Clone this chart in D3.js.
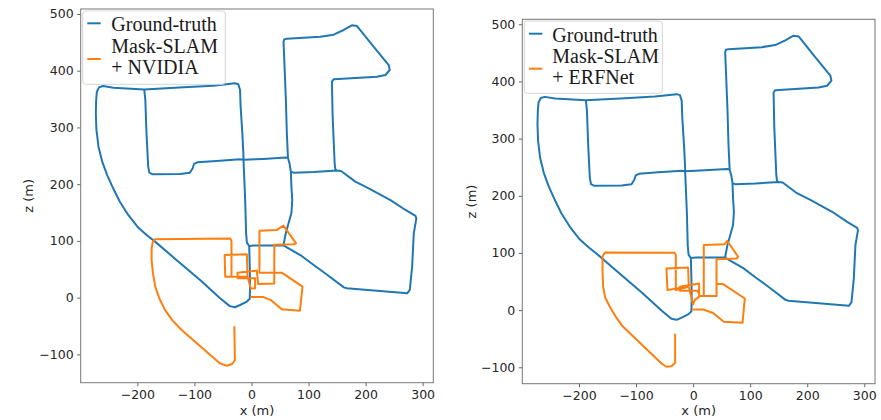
<!DOCTYPE html>
<html>
<head>
<meta charset="utf-8">
<script src="https://cdn.jsdelivr.net/npm/d3@7"></script>
<style>
  body { margin: 0; background: #fff; }
  text { font-family: "DejaVu Sans", sans-serif; }
</style>
</head>
<body>
<svg id="chart" width="881" height="420"></svg>
<script>
// ---- ground truth, road pieces in metres [x, z] ----
const gtWest = [[-188,367],[-242,370],[-260,373],[-267,371],[-271,363],[-272.2,348],[-272.8,325],[-271.7,295.5],[-268.1,266],[-261.6,239.7],[-252.9,216],[-242.4,192.7],[-230.7,169],[-216,145.7],[-198.5,123.4],[-183.8,110.5],[-169,98.7],[-131,66],[-90,31],[-55,-1],[-38,-15],[-29,-17],[-20,-13],[-8,-7],[-3,-2]]
const gtStart = [[-3,-2],[-2.5,20],[-3,55],[-4,91]]
const gtLow = [[-4,91],[5,92],[30,92],[56,92]]
const gtMidUp = [[56,92],[60,113],[65,131],[70,149],[71.5,172],[70,196],[69,222]]
const gtShort = [[69,222],[67,235],[64,246]]
const gtCross = [[64,246],[60,247],[21,244.5],[-14,243]]
const gtWestBlock = [[-14,243],[-20,243.8],[-61,241],[-95,238.5],[-100.7,235.6],[-103,228],[-108,220.3],[-125,218],[-173,217.4],[-179,220.3],[-181,231],[-184,290],[-186,348],[-188,367]]
const gtTopLeft = [[-188,367],[-119,370.7],[-67,373.7],[-29,377.8],[-23,376],[-20,366],[-19,337],[-16,290],[-14,248.5],[-14,243]]
const gtCentre = [[-14,243],[-11,172],[-9.4,113],[-8,97],[-4,91]]
const gtEast = [[56,92],[68,85],[88,73.4],[109,57.6],[129,43],[162,18],[167,16.5],[273,7.6],[277.5,13.5],[281.6,54.6],[284.5,113.4],[289,139.8],[287.5,144],[270,154.5],[243.6,172],[205.5,192.7],[182,204.5],[157,223.3],[150,224]]
const gtBack = [[150,224],[109,221.5],[74,220.3],[69,222]]
const gtNorth = [[64,246],[62,289.7],[60.3,348.4],[58,407],[56.2,451],[57.4,455.3],[62,456.5],[120.6,460],[144,463.6],[161.6,471.8],[176,480],[185,478.8],[214,442.4],[240.6,410],[242.4,401.3],[234.8,392.5],[220,389.5],[144,384.8],[141,380.7],[142.3,319],[145.8,236.8],[147,226],[150,224]]

const groundTruth = [].concat(gtWest, gtStart, gtLow, gtMidUp, gtShort, gtCross, gtWestBlock,
  gtTopLeft, gtCentre, gtLow, gtEast, gtBack, gtShort, gtNorth)

// ---- Mask-SLAM estimates [x, z] ----
const nvidiaTrack = [[-1,1],[21,1],[35,-5],[53,-20.5],[85,-23],[89.4,19.4],[53,44],[14,44],[14,118],[44,119],[56,127],[78,96],[75,94],[40,93],[40,25],[12,24],[11,31],[9.4,47.6],[-24.5,44],[-24,34],[6.4,34],[6.4,16.5],[-1.2,16],[-7,37],[-46,37],[-47,75],[-8,76.5],[-7,37],[-35,37],[-35,99],[-37,104],[-169,103],[-173,98],[-175,87],[-175,66],[-172.7,43],[-168.6,19.4],[-161.6,-1.2],[-151.6,-21.7],[-138.2,-40.5],[-122.4,-57],[-55,-116],[-43,-120],[-34,-117],[-29,-110],[-30,-52]]
const erfnetTrack = [[0,1],[17.5,1],[35,-5],[53.8,-20.4],[86.6,-22.2],[90.6,20.4],[52.6,45.5],[41,45.5],[41,89.2],[76,90.4],[78.9,93.3],[59.6,121.3],[55.5,115.4],[18.7,113.7],[18.7,24.5],[41,24.5],[41,45.5],[41,24.5],[10.5,24.5],[10.5,46.6],[-23.3,40.8],[-23,34],[8,34],[11.7,24.5],[2.9,17.5],[0,10],[-7.6,40.8],[-45,35],[-46.7,72.9],[-8.8,74.6],[-7.6,40.8],[-30.3,35],[-30.3,96.2],[-32.1,100.3],[-154.8,100.9],[-158.8,93.2],[-158.8,70],[-157.7,40.8],[-154.2,22.2],[-146,5.8],[-135.5,-11.7],[-122.7,-29.2],[-55.4,-93.3],[-46.6,-99.1],[-37.9,-98],[-31.5,-92.1],[-31.5,-42.6]]

const xTicks = [-200, -100, 0, 100, 200, 300]
const yTicks = [-100, 0, 100, 200, 300, 400, 500]

const panels = [
  { left: 80.7, right: 433.3, top: 9, bottom: 382.7,
    xDom: [-299.3, 318.7], yDom: [-150, 508.8],
    track: nvidiaTrack, method: '+ NVIDIA', yLabelX: 28,
    legend: { x: 82.7, y: 11, w: 142.6, h: 73.3, gtY: 23.3, estY: 59, textX: 111.3, base: [31, 53.3, 74] } },
  { left: 522.3, right: 875, top: 19.3, bottom: 383.7,
    xDom: [-299.4, 318.8], yDom: [-128.7, 508.7],
    track: erfnetTrack, method: '+ ERFNet', yLabelX: 471.7,
    legend: { x: 524.3, y: 21, w: 138, h: 72.3, gtY: 33.7, estY: 68.7, textX: 552.3, base: [41.7, 63.3, 84] } }
]

const svg = d3.select('#chart')
const blue = '#1f77b4', orange = '#ff7f0e'

panels.forEach((p, i) => {
  let x = d3.scaleLinear().domain(p.xDom).range([p.left, p.right])
  let y = d3.scaleLinear().domain(p.yDom).range([p.bottom, p.top])
  let g = svg.append('g')

  g.append('clipPath').attr('id', 'clip' + i)
    .append('rect')
    .attr('x', p.left).attr('y', p.top)
    .attr('width', p.right - p.left).attr('height', p.bottom - p.top)

  let line = d3.line().x(d => x(d[0])).y(d => y(d[1]))

  let plot = g.append('g').attr('clip-path', 'url(#clip' + i + ')')
  plot.append('path').datum(groundTruth)
    .attr('d', line).attr('fill', 'none').attr('stroke', blue)
    .attr('stroke-width', 2).attr('stroke-linejoin', 'round').attr('stroke-linecap', 'round')
  plot.append('path').datum(p.track)
    .attr('d', line).attr('fill', 'none').attr('stroke', orange)
    .attr('stroke-width', 2).attr('stroke-linejoin', 'round').attr('stroke-linecap', 'round')

  // axes
  let xAxis = g.append('g').attr('transform', `translate(0,${p.bottom})`)
    .call(d3.axisBottom(x).tickValues(xTicks).tickSize(3.5).tickPadding(3.5).tickFormat(d3.format('d')))
  let yAxis = g.append('g').attr('transform', `translate(${p.left},0)`)
    .call(d3.axisLeft(y).tickValues(yTicks).tickSize(3.5).tickPadding(3.5).tickFormat(d3.format('d')))
  ;[xAxis, yAxis].forEach(a => {
    a.select('.domain').remove()
    a.selectAll('line').attr('stroke', '#666')
    a.selectAll('text').attr('fill', '#262626').style('font-size', '12.5px')
      .style('font-family', '"DejaVu Sans", sans-serif')
  })

  // frame
  g.append('rect')
    .attr('x', p.left).attr('y', p.top)
    .attr('width', p.right - p.left).attr('height', p.bottom - p.top)
    .attr('fill', 'none').attr('stroke', '#777').attr('stroke-width', 1)

  // axis labels
  g.append('text')
    .attr('x', (p.left + p.right) / 2).attr('y', 415)
    .attr('text-anchor', 'middle').attr('fill', '#262626').style('font-size', '13px')
    .text('x (m)')
  g.append('text')
    .attr('transform', `translate(${p.yLabelX},${(p.top + p.bottom) / 2}) rotate(-90)`)
    .attr('text-anchor', 'middle').attr('dy', '0.35em').attr('fill', '#262626').style('font-size', '13px')
    .text('z (m)')

  // legend
  let L = p.legend
  g.append('rect')
    .attr('x', L.x).attr('y', L.y).attr('width', L.w).attr('height', L.h).attr('rx', 3)
    .attr('fill', 'white').attr('fill-opacity', 0.8).attr('stroke', '#d6d6d6')
  g.append('line').attr('x1', L.x + 4.6).attr('x2', L.x + 18).attr('y1', L.gtY).attr('y2', L.gtY)
    .attr('stroke', blue).attr('stroke-width', 2)
  g.append('line').attr('x1', L.x + 4.6).attr('x2', L.x + 18).attr('y1', L.estY).attr('y2', L.estY)
    .attr('stroke', orange).attr('stroke-width', 2)
  let labels = ['Ground-truth', 'Mask-SLAM', p.method]
  labels.forEach((t, k) => {
    g.append('text').attr('x', L.textX).attr('y', L.base[k])
      .style('font-family', '"Liberation Serif", "Times New Roman", serif')
      .style('font-size', '20px').attr('fill', '#1a1a1a')
      .text(t)
  })
})
</script>
</body>
</html>
